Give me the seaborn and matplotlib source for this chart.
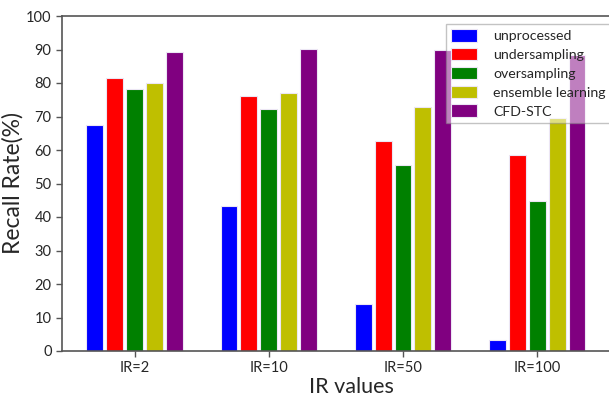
import pandas as pd
import matplotlib
matplotlib.use("Agg")
import matplotlib.pyplot as plt
import seaborn as sns

ir_labels = ["IR=2", "IR=10", "IR=50", "IR=100"]
methods = ["unprocessed", "undersampling", "oversampling", "ensemble learning", "CFD-STC"]
unprocessed = [67.4, 43.3, 14.0, 3.3]
undersampling = [81.6, 76.1, 62.8, 58.4]
oversampling = [78.1, 72.1, 55.4, 44.9]
ensemble = [80.1, 76.9, 72.8, 69.5]
cfd_stc = [89.3, 90.2, 90.0, 88.3]
colors = ["#0000ff", "#ff0000", "#008000", "#bfbf00", "#800080"]

rows = []
for m, vals in zip(methods, [unprocessed, undersampling, oversampling, ensemble, cfd_stc]):
    for ir, v in zip(ir_labels, vals):
        rows.append({"IR": ir, "method": m, "recall": v})
df = pd.DataFrame(rows)

sns.set_style("ticks")
plt.rcParams["font.family"] = ["Lato", "DejaVu Sans"]

fig = plt.figure(figsize=(6.09, 3.97), dpi=100)
# right edge of the axes sits outside the picture, like the cropped original
ax = fig.add_axes([62 / 609, 46 / 397, (640 - 62) / 609, 335 / 397])

sns.barplot(data=df, x="IR", y="recall", hue="method", hue_order=methods,
            palette=colors, width=0.74, gap=0.15, edgecolor="#ece6f4",
            linewidth=0.8, saturation=1, ax=ax)

ax.set_xlim(-0.54, 3.765)
ax.set_ylim(0, 100)
ax.set_yticks(range(0, 101, 10))
ax.set_xlabel("IR values", fontsize=15.5, labelpad=1)
ax.set_ylabel("Recall Rate(%)", fontsize=16.5, labelpad=2)
ax.tick_params(axis="both", labelsize=10.5, direction="out", length=4,
               color="#555555", width=1)
for s in ax.spines.values():
    s.set_color("#555555")
    s.set_linewidth(1.2)

leg = ax.legend(loc="upper left", fontsize=10.2, frameon=True,
                fancybox=False, framealpha=0.5, edgecolor="#888888",
                labelspacing=0.4, handlelength=1.85, handleheight=1.0,
                borderpad=0.35, handletextpad=1.15, borderaxespad=0)
leg.set_bbox_to_anchor((446 / 609, 1 - 24 / 397), transform=fig.transFigure)

fig.savefig("out.png", dpi=100)
